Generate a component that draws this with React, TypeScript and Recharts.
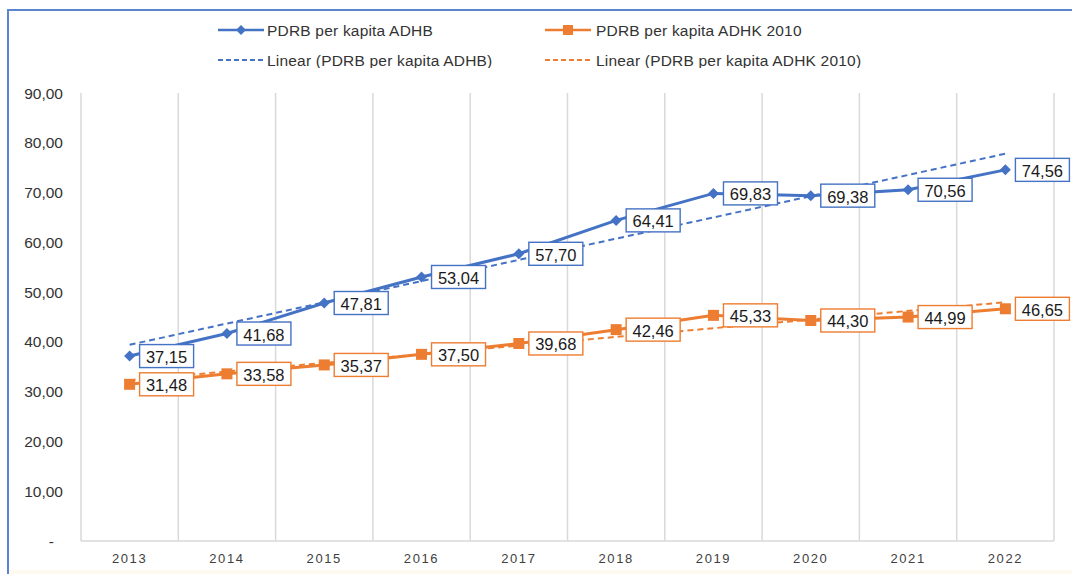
import React from 'react';
import { LineChart, Line, XAxis, YAxis, CartesianGrid, Legend, LabelList } from 'recharts';

const years = ['2013', '2014', '2015', '2016', '2017', '2018', '2019', '2020', '2021', '2022'];
const adhb = [37.15, 41.68, 47.81, 53.04, 57.7, 64.41, 69.83, 69.38, 70.56, 74.56];
const adhk = [31.48, 33.58, 35.37, 37.5, 39.68, 42.46, 45.33, 44.3, 44.99, 46.65];
// linear trendline values at the first and last year
const trendAdhbEnds = [39.42, 77.8];
const trendAdhkEnds = [32.3, 47.97];
const yTicks = [0, 10, 20, 30, 40, 50, 60, 70, 80, 90];

const BLUE = '#4472C4';
const ORANGE = '#ED7D31';
const FONT = '"Liberation Sans", Arial, sans-serif';

const last = years.length - 1;
const data = years.map((year, i) => ({
  year,
  adhb: adhb[i],
  adhk: adhk[i],
  trendAdhb: i === 0 ? trendAdhbEnds[0] : i === last ? trendAdhbEnds[1] : null,
  trendAdhk: i === 0 ? trendAdhkEnds[0] : i === last ? trendAdhkEnds[1] : null,
}));

const fmt = (v: number) => v.toFixed(2).replace('.', ',');

const Diamond = (props: any) => {
  const { cx, cy } = props;
  if (cx == null || cy == null) return null;
  const r = 5.5;
  return <path d={`M${cx},${cy - r}L${cx + r},${cy}L${cx},${cy + r}L${cx - r},${cy}Z`} fill={BLUE} />;
};

const Square = (props: any) => {
  const { cx, cy } = props;
  if (cx == null || cy == null) return null;
  return <rect x={cx - 5.5} y={cy - 5.5} width={11} height={11} fill={ORANGE} />;
};

const boxLabel = (color: string) => (props: any) => {
  const { x, y, value } = props;
  if (value == null) return null;
  return (
    <g>
      <rect x={x + 10} y={y - 11.5} width={54} height={23} fill="#fff" stroke={color} strokeWidth={1.4} />
      <text x={x + 37} y={y + 1} dominantBaseline="central" textAnchor="middle" fontSize={16.5} fill="#1a1a1a" fontFamily={FONT}>
        {fmt(value)}
      </text>
    </g>
  );
};

const XTick = (props: any) => {
  const { x, y, payload } = props;
  return (
    <text x={x} y={y} dy={14} textAnchor="middle" fontSize={13} fill="#404040" fontFamily={FONT} letterSpacing={1.6}>
      {payload.value}
    </text>
  );
};

const YTick = (props: any) => {
  const { x, y, payload } = props;
  const zero = payload.value === 0;
  return (
    <text x={zero ? x - 19 : x - 10} y={y} dominantBaseline="central" textAnchor="end" fontSize={15.5} fill="#333" fontFamily={FONT}>
      {zero ? '-' : fmt(payload.value)}
    </text>
  );
};

const LegendBox = () => {
  const text = { fontSize: 15.5, fill: '#333', fontFamily: FONT, letterSpacing: 0.2 } as const;
  return (
    <svg width={1072} height={50}>
      <line x1={218} x2={264} y1={12} y2={12} stroke={BLUE} strokeWidth={2.5} />
      <path d="M241,7L246,12L241,17L236,12Z" fill={BLUE} />
      <text x={267} y={12} dominantBaseline="central" {...text}>PDRB per kapita ADHB</text>
      <line x1={218} x2={264} y1={42} y2={42} stroke={BLUE} strokeWidth={1.8} strokeDasharray="5 3" />
      <text x={267} y={42} dominantBaseline="central" {...text}>Linear (PDRB per kapita ADHB)</text>
      <line x1={545} x2={591} y1={12} y2={12} stroke={ORANGE} strokeWidth={2.5} />
      <rect x={563} y={7} width={10} height={10} fill={ORANGE} />
      <text x={596} y={12} dominantBaseline="central" {...text}>PDRB per kapita ADHK 2010</text>
      <line x1={545} x2={591} y1={42} y2={42} stroke={ORANGE} strokeWidth={1.8} strokeDasharray="5 3" />
      <text x={596} y={42} dominantBaseline="central" {...text}>Linear (PDRB per kapita ADHK 2010)</text>
    </svg>
  );
};

export default function App() {
  return (
    <div style={{ position: 'absolute', left: 0, top: 0, width: 1072, height: 574, background: '#fff', overflow: 'hidden' }}>
      <div style={{ position: 'absolute', left: 7, top: 9, right: 0, bottom: 0, borderTop: '2px solid #5b85d0', borderLeft: '2px solid #5b85d0' }} />
      <div style={{ position: 'absolute', left: 9, right: 0, top: 570, bottom: 0, background: '#fffaf0' }} />
      <LineChart width={1072} height={574} data={data} margin={{ top: 93, right: 18, bottom: 8, left: 11 }} style={{ position: 'absolute', left: 0, top: 0 }}>
        <CartesianGrid
          horizontal={false}
          stroke="#d9d9d9"
          strokeWidth={1.5}
          verticalCoordinatesGenerator={({ offset }: any) =>
            Array.from({ length: years.length + 1 }, (_, i) => offset.left + (i * offset.width) / years.length)
          }
        />
        <XAxis
          dataKey="year"
          padding={{ left: 48.6, right: 48.6 }}
          axisLine={{ stroke: '#d9d9d9', strokeWidth: 1.5 }}
          tickLine={false}
          tick={<XTick />}
          height={25}
          interval={0}
        />
        <YAxis
          domain={[0, 90]}
          ticks={yTicks}
          axisLine={false}
          tickLine={false}
          tick={<YTick />}
          width={70}
        />
        <Legend layout="horizontal" verticalAlign="middle" content={<LegendBox />} wrapperStyle={{ top: 18, left: 0, width: 1072 }} />
        <Line dataKey="adhb" stroke={BLUE} strokeWidth={3} dot={<Diamond />} isAnimationActive={false}>
          <LabelList dataKey="adhb" content={boxLabel(BLUE)} />
        </Line>
        <Line dataKey="adhk" stroke={ORANGE} strokeWidth={3} dot={<Square />} isAnimationActive={false}>
          <LabelList dataKey="adhk" content={boxLabel(ORANGE)} />
        </Line>
        <Line dataKey="trendAdhb" stroke={BLUE} strokeWidth={2} strokeDasharray="6 4" dot={false} connectNulls isAnimationActive={false} />
        <Line dataKey="trendAdhk" stroke={ORANGE} strokeWidth={2} strokeDasharray="6 4" dot={false} connectNulls isAnimationActive={false} />
      </LineChart>
    </div>
  );
}
